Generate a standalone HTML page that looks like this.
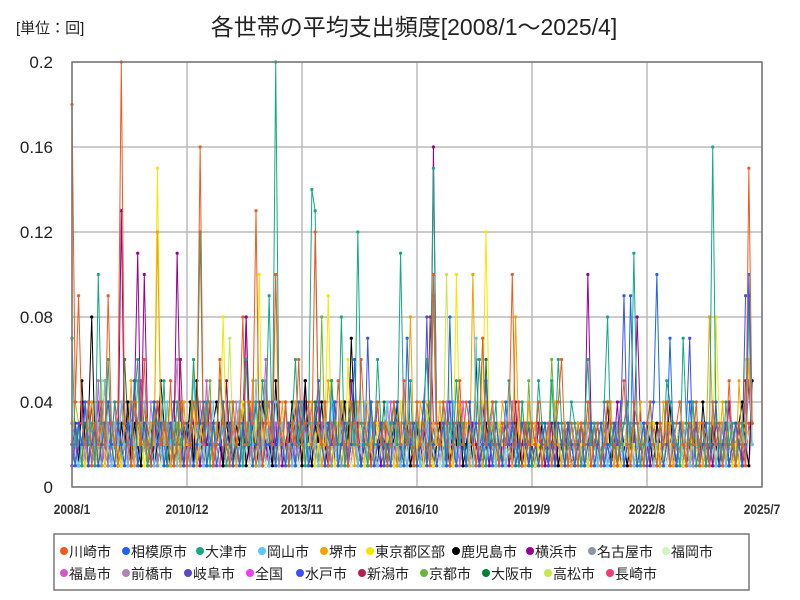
<!DOCTYPE html>
<html><head><meta charset="utf-8">
<style>
html,body{margin:0;padding:0;background:#fff;}
svg{display:block;font-family:"Liberation Sans","Noto Sans CJK JP",sans-serif;}
</style></head>
<body>
<svg id="chart" width="800" height="600" viewBox="0 0 800 600">
<text x="16" y="33" font-size="15" fill="#222">[単位：回]</text>
<text x="414" y="35" font-size="23" text-anchor="middle" fill="#222">各世帯の平均支出頻度[2008/1～2025/4]</text>
<g id="grid"></g>
<g id="series"></g>
<rect x="72" y="62" width="690" height="425" fill="none" stroke="#777" stroke-width="1.5"/>
<g id="axes"></g>
<rect x="54" y="534" width="695" height="56" fill="#fff" stroke="#777" stroke-width="1.5"/>
<g id="legend"></g>
</svg>
<script>
const seriesNames=["川崎市","相模原市","大津市","岡山市","堺市","東京都区部","鹿児島市","横浜市","名古屋市","福岡市","福島市","前橋市","岐阜市","全国","水戸市","新潟市","京都市","大阪市","高松市","長崎市"];
const seriesColors=["#f05a1e","#1e64f0","#14aa82","#5ac8fa","#f0a500","#f5e600","#000000","#960096","#8c96a0","#d2f5be","#d25ac8","#b482b4","#5a46c8","#f03cf0","#3c50f0","#b41e50","#6eb43c","#008232","#c8e650","#f03c6e"];
const yTicks=[0,0.04,0.08,0.12,0.16,0.2];
const yTickLabels=["0","0.04","0.08","0.12","0.16","0.2"];
const xTickMonths=[0,35,70,105,140,175,210];
const xTickLabels=["2008/1","2010/12","2013/11","2016/10","2019/9","2022/8","2025/7"];
const monthCount=208; // 2008/1 .. 2025/4
const valueScale=0.01; // values below are in hundredths of 回
const kawasaki=[18,4,9,3,2,4,1,3,2,4,2,9,3,2,4,20,3,2,1,4,3,2,6,2,1,3,4,2,3,2,5,1,2,4,3,1,2,4,3,16,2,3,4,1,2,6,3,2,1,4,2,3,8,2,4,3,13,2,1,3,4,2,10,3,2,4,1,3,2,6,2,3,4,2,12,3,2,4,1,3,2,5,3,2,1,4,3,2,6,3,2,1,3,4,2,3,1,2,4,3,2,5,2,3,1,4,2,3,2,1,10,3,2,4,3,1,2,3,5,2,4,3,2,1,3,7,2,3,4,2,1,3,2,3,10,2,4,1,3,2,3,2,4,1,2,3,1,2,4,6,2,1,3,2,1,3,2,4,1,2,3,1,2,4,3,2,1,3,5,2,1,4,3,2,1,3,4,2,1,3,2,4,1,2,3,4,2,1,3,2,4,1,3,2,1,4,2,3,1,2,5,2,1,3,2,1,15,3];
const sagamihara=[2,1,3,2,4,1,2,3,1,2,3,4,2,1,3,2,1,3,2,5,1,2,3,2,1,4,2,3,1,2,3,1,2,4,1,3,2,1,2,3,4,1,2,3,1,2,4,2,3,1,2,1,3,2,4,1,2,3,1,2,2,4,1,3,2,1,3,2,1,4,2,3,1,2,3,5,2,1,3,2,4,1,2,3,1,2,6,2,1,3,2,4,1,2,3,1,2,1,3,4,2,1,7,2,3,1,2,4,1,3,2,1,2,3,1,8,2,1,3,2,1,4,2,3,1,2,5,2,1,3,2,1,4,2,3,1,2,3,2,1,3,2,1,2,3,1,2,1,3,2,1,3,2,1,2,3,1,2,3,1,2,3,1,2,1,3,2,4,1,2,9,3,1,2,3,1,2,4,10,3,1,2,7,2,1,3,2,1,4,2,3,1,2,3,1,2,4,1,2,3,1,2,3,2,1,2,10,3];
const otsu=[7,2,3,1,4,2,3,1,10,3,2,6,2,4,3,2,1,3,2,4,6,2,3,1,2,4,3,2,5,1,3,2,4,2,3,1,2,6,3,12,2,4,1,3,2,5,3,1,2,4,2,3,1,6,2,3,4,2,5,3,9,2,20,3,2,4,1,3,6,2,4,1,3,14,13,3,2,4,1,5,3,2,8,1,3,4,2,12,3,2,1,4,2,6,3,2,1,3,4,2,11,3,2,5,1,3,2,4,6,2,15,3,2,4,1,3,2,5,2,3,1,4,2,3,6,2,1,3,2,4,1,3,2,5,3,2,1,4,2,3,1,2,5,3,2,1,5,2,6,3,1,2,4,3,2,1,3,6,2,3,2,1,4,8,2,3,1,2,3,4,2,11,3,1,2,3,4,2,1,3,2,5,4,3,2,1,7,3,2,4,1,2,3,1,2,16,3,2,1,4,2,3,1,2,3,2,9,3];
const okayama=[3,2,1,2,4,3,1,2,3,2,5,2,1,3,2,4,2,1,3,2,1,2,4,3,2,1,3,2,1,4,2,3,1,2,3,1,2,5,3,2,1,3,2,4,1,2,3,2,1,2,3,4,1,2,3,2,5,1,2,3,1,2,4,2,3,1,2,1,3,2,4,2,1,3,2,1,2,3,1,4,2,1,3,2,1,2,3,1,2,4,1,3,2,1,2,3,4,1,2,3,1,2,1,3,2,4,1,2,3,1,2,3,2,1,3,2,4,1,2,3,1,2,1,7,2,3,1,2,4,1,2,3,1,2,3,2,1,4,2,1,3,2,1,2,3,1,2,1,3,2,1,2,3,1,2,1,3,2,1,2,1,3,2,1,2,3,1,2,1,3,2,1,2,3,1,2,4,1,2,3,1,2,1,3,2,1,2,3,1,2,4,1,2,3,1,2,1,3,2,1,3,2,1,2,3,1,8,2];
const sakai=[2,4,3,1,2,3,4,2,1,3,2,4,3,2,1,4,3,2,5,1,3,2,4,1,3,2,12,3,2,4,1,3,2,1,4,2,3,6,1,2,4,3,2,1,3,2,4,1,2,3,1,4,2,3,2,5,1,3,2,4,3,2,10,2,4,1,3,2,4,3,2,1,3,4,2,3,1,2,5,3,2,1,4,3,2,3,1,4,2,3,1,2,3,4,2,1,3,2,4,1,3,2,3,8,2,1,4,3,2,1,3,2,4,1,2,3,2,1,4,2,3,1,10,3,2,1,4,2,3,1,2,4,3,2,1,8,2,3,1,4,2,3,1,2,3,2,1,4,2,1,3,2,1,2,3,1,2,4,1,3,2,1,3,2,4,1,2,3,1,2,1,3,2,4,1,2,3,1,2,1,4,2,3,1,2,1,3,2,1,4,2,3,1,2,8,3,1,2,4,1,3,2,1,5,2,3,6,2];
const tokyo=[2,1,3,2,1,2,3,1,2,4,1,2,3,1,2,1,3,2,1,4,2,3,1,2,3,2,15,3,1,2,4,2,1,3,2,1,2,4,1,3,2,1,2,3,1,2,8,2,3,1,2,1,4,2,3,1,2,10,1,3,2,4,1,2,3,1,2,1,3,2,4,1,2,3,1,2,1,3,9,2,1,3,2,1,6,2,3,1,2,1,4,2,1,3,2,1,2,3,1,2,4,1,2,3,1,2,3,1,4,2,1,3,2,1,3,2,1,10,2,3,1,2,1,3,2,4,12,3,2,1,3,2,1,2,3,1,2,4,1,2,3,1,2,1,3,2,1,2,3,1,2,1,3,2,1,2,3,1,2,1,2,3,1,2,1,3,2,1,2,3,1,2,1,3,2,1,2,3,1,2,1,3,2,1,2,3,1,2,1,3,2,1,2,3,1,2,8,3,1,2,3,1,2,1,3,2,6,2];
const kagoshima=[3,2,1,5,2,3,8,2,1,3,2,4,3,2,1,3,2,4,1,3,2,1,4,2,3,1,2,5,3,2,1,3,2,1,3,2,4,1,5,2,3,1,2,3,4,2,1,3,2,1,3,2,4,1,2,3,1,2,4,3,2,1,5,2,3,1,2,4,2,3,1,5,2,1,3,2,4,2,1,3,2,1,3,4,2,7,3,1,2,3,1,4,2,1,3,2,1,3,2,4,1,2,3,1,2,3,1,2,4,3,1,2,3,1,2,1,3,2,4,1,2,3,1,6,2,1,3,2,4,1,2,3,1,2,1,3,2,1,2,3,1,2,1,3,2,1,2,3,1,2,1,3,2,1,2,1,3,2,1,2,3,1,2,4,1,2,1,3,2,1,2,3,1,2,1,3,2,1,3,2,1,2,4,1,2,3,1,2,1,3,2,1,4,2,1,3,2,1,2,3,1,2,1,3,4,2,1,5];
const yokohama=[2,3,1,4,2,3,1,2,3,4,1,2,3,2,1,13,2,3,1,4,11,2,10,3,1,2,4,3,2,1,3,2,11,3,1,2,4,3,2,1,3,2,4,1,2,3,1,5,2,3,1,4,2,8,3,1,2,4,3,2,1,3,2,4,1,2,3,1,4,2,3,5,1,2,3,4,2,1,3,2,4,1,2,3,1,5,2,3,1,2,4,1,3,2,1,2,3,1,2,4,1,2,3,1,2,3,2,1,4,2,16,3,2,1,3,2,4,1,2,3,1,2,3,2,1,4,2,1,3,2,1,2,3,1,2,4,1,2,3,1,2,1,3,2,1,2,3,1,2,1,3,2,1,2,3,1,2,10,3,1,2,1,3,2,1,2,4,1,2,3,1,2,8,3,1,2,1,3,2,1,2,3,1,2,1,3,2,1,2,3,1,2,3,1,2,1,3,2,1,2,4,1,2,3,1,2,5,2];
const nagoya=[2,1,3,2,1,2,3,1,2,1,3,2,1,2,3,1,2,3,1,2,1,3,2,1,2,3,1,2,1,3,2,1,2,1,3,2,1,2,3,1,2,1,3,2,1,2,4,1,2,3,1,2,1,3,2,1,2,3,1,2,1,3,2,1,2,1,3,2,1,2,3,1,2,1,3,2,1,2,3,1,2,3,1,2,1,3,2,1,2,3,1,2,1,3,2,1,2,1,3,2,1,2,3,1,2,1,3,2,1,2,9,1,2,3,1,2,1,3,2,1,2,3,1,2,1,3,2,1,2,1,3,2,1,2,3,1,2,1,3,2,1,2,3,1,2,3,1,2,1,3,2,1,2,3,1,2,1,3,2,1,2,1,3,2,1,2,3,1,2,1,3,2,1,2,3,1,2,3,1,2,1,3,2,1,2,3,1,2,1,3,2,1,2,1,3,2,1,2,3,1,2,1,3,2,1,2,8,2];
const fukuoka=[2,2,3,1,2,2,3,2,1,2,3,2,2,1,3,2,2,2,1,3,2,2,1,2,3,2,2,1,2,3,2,2,1,2,2,3,2,1,2,2,3,2,1,2,2,3,2,1,2,2,1,3,2,2,1,2,3,2,2,1,2,3,2,2,1,2,2,3,2,1,2,2,3,2,1,2,2,3,2,2,1,2,3,2,2,1,2,2,3,2,1,2,2,3,2,2,1,2,3,2,2,1,2,2,3,2,1,2,2,3,2,2,1,2,3,2,2,1,2,2,3,2,1,2,2,3,2,2,1,2,3,2,2,1,2,2,3,2,1,2,2,3,2,2,1,2,3,2,2,1,2,2,3,2,1,2,2,3,2,2,1,2,3,2,2,1,2,2,3,2,1,2,2,3,2,2,1,2,3,2,2,1,2,2,3,2,1,2,2,3,2,2,1,2,3,2,2,1,2,2,3,2,1,2,2,3,2,2,1,4];
const fukushima=[3,1,2,4,1,3,2,1,5,2,1,3,2,4,1,2,3,1,2,1,3,5,2,1,3,2,1,4,2,3,1,2,1,3,2,1,4,2,3,1,2,5,1,3,2,1,2,4,1,3,2,1,3,2,1,4,2,1,3,6,2,1,3,2,1,4,2,3,1,2,1,3,2,4,1,2,3,1,2,1,3,2,4,1,2,1,3,2,1,3,4,2,1,2,3,1,2,4,1,3,2,1,2,3,1,2,1,3,2,4,1,2,1,3,2,1,2,3,1,4,2,1,3,2,1,2,3,1,2,1,3,2,1,2,4,1,2,1,3,2,1,2,3,1,2,1,3,2,1,2,1,3,2,1,2,3,1,2,1,3,2,1,4,2,1,3,2,1,2,3,1,2,1,3,2,1,2,1,3,2,1,2,3,1,2,1,3,2,1,2,3,1,2,1,3,2,1,2,1,3,2,1,2,3,1,2,1,3,2,3];
const maebashi=[2,3,1,2,1,4,2,1,3,2,5,1,2,3,1,2,4,1,3,2,1,2,3,1,4,2,1,3,2,1,2,3,6,1,2,3,1,2,1,4,2,1,3,2,1,2,3,1,2,1,4,2,1,3,2,1,2,3,1,5,2,1,3,2,1,2,3,1,2,4,1,2,3,1,2,1,3,2,1,2,4,1,3,2,1,2,3,1,2,1,3,2,1,2,3,1,4,2,1,3,2,1,2,3,1,2,1,3,2,1,2,3,1,2,4,1,2,3,1,2,1,3,2,1,2,3,1,2,1,3,2,1,2,3,1,2,1,3,2,1,2,3,1,2,1,3,2,1,2,1,3,2,1,2,3,1,2,1,3,2,1,2,3,1,2,1,3,2,1,2,3,1,2,1,3,2,1,2,3,1,2,1,3,2,1,2,3,1,2,1,3,2,1,2,3,1,2,1,3,2,1,2,3,1,2,4];
const gifu=[1,2,3,1,2,1,3,2,4,1,2,3,1,2,1,3,2,1,2,4,1,3,2,1,2,3,1,2,1,3,2,4,1,2,1,3,2,1,2,3,1,2,4,1,2,3,1,2,1,3,2,1,2,3,1,4,2,1,3,2,1,2,3,1,2,1,3,2,4,1,2,3,1,2,1,3,2,1,2,5,1,2,3,1,2,1,3,2,1,2,3,1,2,4,1,2,3,1,2,1,3,2,1,2,3,1,2,1,3,2,1,2,3,1,2,4,1,2,3,1,2,1,3,2,1,2,3,1,2,1,3,2,1,2,3,1,2,1,3,2,1,2,3,1,2,1,3,2,1,2,3,1,2,1,3,2,1,2,3,1,2,1,3,2,1,2,3,1,2,1,3,2,1,2,3,1,2,1,3,2,1,2,3,1,2,1,3,2,1,2,3,1,2,1,3,2,1,2,3,1,2,1,3,2,1,2];
const zenkoku=[2,2,2,2,2,2,2,2,2,2,2,2,2,2,2,3,2,2,2,2,2,2,2,2,2,2,3,2,2,2,2,2,2,2,2,2,2,2,2,3,2,2,2,2,2,2,2,2,2,2,2,2,2,2,2,2,2,2,2,2,2,2,3,2,2,2,2,2,2,2,2,2,2,2,3,2,2,2,2,2,2,2,2,2,2,2,2,2,2,2,2,2,2,2,2,2,2,2,2,2,2,2,2,2,2,2,2,2,2,2,3,2,2,2,2,2,2,2,2,2,2,2,2,2,2,2,2,2,2,2,2,2,2,2,2,2,2,2,2,2,2,2,2,2,2,2,2,2,2,2,2,2,2,2,2,2,2,2,2,2,2,2,2,2,2,2,2,2,2,2,2,2,2,2,2,2,2,2,2,2,2,2,2,2,2,2,2,2,2,2,2,2,2,2,2,2,2,2,2,2,2,2,2,2,2,2,2,2];
const mito=[1,3,2,1,2,4,1,2,3,1,2,1,3,2,1,2,3,1,4,2,1,3,2,1,2,3,1,2,1,3,2,4,1,2,3,1,2,1,3,2,1,4,2,1,3,2,1,2,3,1,2,1,3,2,1,2,4,1,2,3,1,2,1,3,2,1,2,3,1,2,1,4,2,1,3,2,1,2,3,1,2,1,3,2,1,2,3,1,2,1,7,2,1,3,2,1,2,3,1,2,1,3,2,1,2,3,1,2,8,1,2,3,1,2,1,3,2,1,2,3,1,2,1,3,2,1,2,3,1,2,1,3,2,1,2,3,1,2,1,3,2,1,2,3,1,2,1,3,2,1,2,3,1,2,1,3,2,1,2,3,1,2,1,3,2,1,2,3,9,2,1,3,2,1,2,3,1,2,1,3,2,1,2,3,1,2,1,3,7,1,2,3,1,2,1,3,2,1,2,3,1,2,1,3,2,9];
const niigata=[2,1,3,2,1,2,4,1,2,3,1,2,1,3,2,1,2,3,1,5,2,1,3,2,1,2,3,1,2,1,3,2,1,6,2,1,3,2,1,2,3,1,2,1,3,2,1,2,3,1,2,1,3,8,1,2,3,1,2,1,3,2,1,2,3,1,2,1,3,2,1,2,3,1,2,1,3,2,1,2,3,1,2,4,1,2,3,1,2,1,3,2,1,2,3,1,2,1,3,2,1,2,3,1,2,1,3,2,1,8,3,1,2,1,3,2,1,2,3,1,2,1,3,2,1,2,3,1,2,1,3,2,1,2,3,1,2,1,3,2,1,2,3,1,2,1,3,2,1,2,3,1,2,1,3,2,1,2,3,1,2,1,3,2,1,2,3,1,2,1,3,2,1,2,3,1,2,1,3,2,1,2,3,1,2,1,3,2,1,2,3,1,2,1,3,2,1,2,3,1,2,1,3,2,1,5];
const kyoto=[2,3,1,2,4,1,3,2,1,2,5,1,3,2,1,4,2,1,3,2,5,1,2,3,1,2,4,1,3,2,1,2,3,1,4,2,1,3,2,1,2,3,5,1,2,3,1,2,4,1,2,3,1,2,1,3,2,4,1,2,3,1,2,1,3,2,1,2,4,1,3,2,1,2,3,1,8,2,1,3,2,1,2,3,1,2,4,1,2,3,1,2,1,3,2,1,2,3,1,2,4,1,2,3,1,2,1,3,2,1,2,3,1,2,1,3,2,1,2,3,1,2,1,3,2,7,2,3,1,2,1,3,2,1,2,3,1,2,1,5,2,1,2,3,1,2,6,3,2,1,2,3,1,2,1,3,2,1,2,3,1,2,1,3,2,1,2,3,1,2,1,3,2,1,2,3,1,2,1,3,2,1,2,3,1,2,1,3,2,1,2,3,1,2,1,3,2,1,2,3,1,2,1,3,2,4];
const osaka=[3,1,2,1,3,2,4,1,2,3,1,2,1,3,2,1,6,3,1,2,1,3,2,1,2,4,1,2,3,1,2,1,3,2,1,2,3,1,2,1,3,2,4,1,2,3,1,2,1,3,2,1,2,3,1,2,4,1,2,3,1,2,1,3,2,1,2,3,1,2,1,3,2,1,4,2,1,3,2,1,2,3,1,2,1,3,2,1,2,3,1,2,1,3,2,4,1,2,3,1,2,1,3,2,1,2,3,1,2,1,3,2,1,2,3,1,2,1,3,2,1,2,3,1,2,1,6,2,1,2,3,1,2,1,3,2,1,2,3,1,2,1,3,2,1,2,3,1,2,1,3,2,1,2,3,1,2,1,3,2,1,2,3,1,2,1,3,2,1,2,3,1,2,1,3,2,1,2,3,1,2,1,3,2,1,2,3,1,2,1,3,2,1,2,3,1,2,1,3,2,1,2,3,1,2,3];
const takamatsu=[2,1,3,2,1,2,3,1,2,5,1,2,3,1,2,1,3,2,1,2,3,1,2,1,3,2,1,2,3,1,2,1,4,2,1,3,2,1,2,3,1,2,1,3,2,1,2,3,7,2,1,3,2,1,2,3,1,2,1,3,2,1,2,3,1,2,1,3,2,1,2,3,1,2,1,3,2,1,2,3,1,2,1,3,2,1,2,3,1,2,1,3,2,1,2,3,1,2,1,3,2,1,2,3,1,2,1,3,2,1,2,3,1,2,10,3,2,1,2,3,1,2,1,3,2,1,2,3,1,2,1,3,2,1,2,3,1,2,1,3,2,1,2,3,1,2,1,3,2,1,2,3,1,2,1,3,2,1,2,3,1,2,1,3,2,1,2,3,1,2,1,3,2,1,2,3,1,2,1,3,2,1,2,3,1,2,1,3,2,1,2,3,1,2,1,3,2,1,2,3,1,2,1,3,2,6];
const nagasaki=[1,2,3,1,2,1,3,2,1,2,3,1,2,1,3,2,1,2,3,4,2,1,3,2,1,2,3,1,2,1,3,2,1,2,3,1,2,1,3,2,1,2,3,1,2,1,3,2,1,2,3,1,2,1,3,2,1,2,3,1,2,1,3,2,1,2,3,1,2,1,3,2,1,2,3,1,2,1,3,2,1,2,3,1,2,1,3,2,1,2,3,1,2,1,3,2,1,2,3,1,2,1,3,2,1,2,3,1,2,1,3,2,1,2,3,1,2,1,3,2,1,2,3,1,2,1,3,2,1,2,3,1,2,1,3,2,1,2,3,1,2,1,3,2,1,2,3,1,2,1,3,2,1,2,3,1,2,1,3,2,1,2,3,1,2,1,3,2,1,2,3,1,2,1,3,2,1,2,3,1,2,1,3,2,1,2,3,1,2,1,3,2,1,2,3,1,2,1,3,2,1,2,3,1,2,1,3,2,1,3];
const seriesValues=[kawasaki,sagamihara,otsu,okayama,sakai,tokyo,kagoshima,yokohama,nagoya,fukuoka,fukushima,maebashi,gifu,zenkoku,mito,niigata,kyoto,osaka,takamatsu,nagasaki];

const NS="http://www.w3.org/2000/svg";
const X0=72,X1=762,Y0=487,Y1=62,MONTHS=210,YMAX=0.2;
function xScale(m){return X0+(X1-X0)*m/MONTHS;}
function yScale(v){return Y0-(Y0-Y1)*v/YMAX;}
function mk(tag,attrs,parent){const e=document.createElementNS(NS,tag);for(const k in attrs)e.setAttribute(k,attrs[k]);parent.appendChild(e);return e;}

const grid=document.getElementById('grid'),axes=document.getElementById('axes');
yTicks.forEach((t,i)=>{
  const gl=mk('line',{x1:X0,x2:X1,y1:yScale(t),y2:yScale(t),stroke:'#bbb','stroke-width':1.5},grid);
  
  
  const tl=mk('text',{x:53,y:yScale(t)+6,'font-size':17,'text-anchor':'end',fill:'#222'},axes);
  tl.textContent=yTickLabels[i];
  
  
});
xTickMonths.forEach((m,i)=>{
  const gl=mk('line',{x1:xScale(m),x2:xScale(m),y1:Y1,y2:Y0,stroke:'#bbb','stroke-width':1.5},grid);
  
  
  const tl=mk('text',{x:xScale(m),y:514,'font-size':14,'font-weight':'bold','text-anchor':'middle',fill:'#333',transform:`translate(${xScale(m)},0) scale(0.85,1) translate(${-xScale(m)},0)`},axes);
  tl.textContent=xTickLabels[i];
  
  
});

const sg=document.getElementById('series');
for(let s=seriesValues.length-1;s>=0;s--){
  const vals=seriesValues[s].slice(0,monthCount);
  const g=mk('g',{},sg);
  
  
  const pts=vals.map((v,i)=>xScale(i).toFixed(2)+','+yScale(v*valueScale).toFixed(2)).join(' ');
  const pl=mk('polyline',{points:pts,fill:'none',stroke:seriesColors[s],'stroke-width':1},g);
  
  
  vals.forEach((v,i)=>{
    const c=mk('circle',{cx:xScale(i),cy:yScale(v*valueScale),r:1.6,fill:seriesColors[s]},g);
    
    
  });
}

const lg=document.getElementById('legend');
const rowBreak=10;
const row1X=[60,122,196,258,320,366,452,526,588,662];
const row2X=[60,122,184,246,296,358,420,482,544,606];
seriesNames.forEach((n,i)=>{
  const row=i<rowBreak?0:1;
  const x=row===0?row1X[i]:row2X[i-rowBreak];
  const y=row===0?552:574;
  const g=mk('g',{},lg);
  
  
  mk('circle',{cx:x+4,cy:y-1,r:4,fill:seriesColors[i]},g);
  const t=mk('text',{x:x+9,y:y+5,'font-size':14,fill:'#222'},g);
  t.textContent=n;
});
</script>
</body></html>
